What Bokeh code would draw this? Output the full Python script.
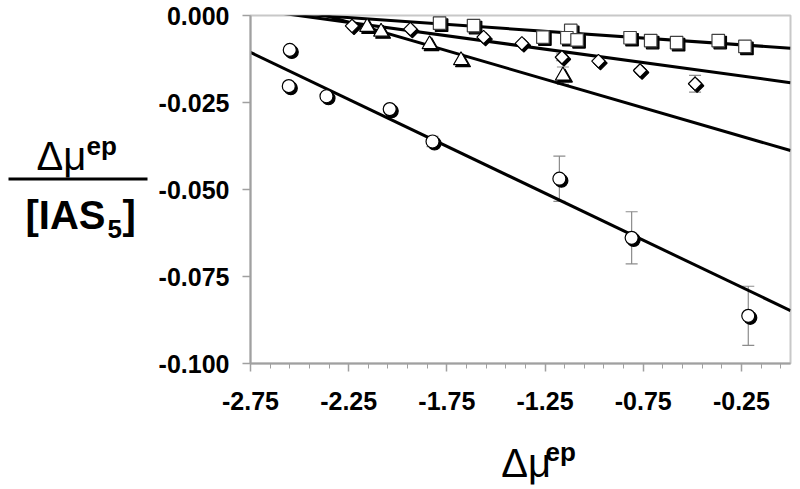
from bokeh.plotting import figure
from bokeh.layouts import row, column
from bokeh.models import (FixedTicker, PrintfTickFormatter, Whisker, ColumnDataSource,
                          TeeHead, Range1d)
from bokeh.core.properties import value
from bokeh.embed import file_html
from bokeh.resources import INLINE

# ---------------- data ----------------
circle_x = [-2.550, -2.555, -2.363, -2.041, -1.823, -1.177, -0.809, -0.215]
circle_y = [-0.0099, -0.0203, -0.0232, -0.0269, -0.0362, -0.0469, -0.0639, -0.0863]
circle_err = [0.0, 0.0, 0.0, 0.0008, 0.0015, 0.0065, 0.0075, 0.0085]

square_x = [-1.787, -1.614, -1.261, -1.119, -1.139, -1.087, -0.817, -0.712, -0.580, -0.368, -0.232]
square_y = [-0.0022, -0.0029, -0.0062, -0.0043, -0.0064, -0.0070, -0.0064, -0.0072, -0.0078, -0.0072, -0.0089]

diamond_x = [-2.233, -1.936, -1.563, -1.368, -1.164, -0.978, -0.766, -0.486]
diamond_y = [-0.0030, -0.0039, -0.0062, -0.0080, -0.0120, -0.0131, -0.0158, -0.0196]
diamond_err = [0.0, 0.0, 0.0, 0.0, 0.0010, 0.0, 0.0005, 0.0024]

triangle_x = [-2.156, -2.085, -1.838, -1.678, -1.159]
triangle_y = [-0.0033, -0.0047, -0.0083, -0.0129, -0.0173]
triangle_err = [0.0, 0.0, 0.0, 0.0, 0.0025]

# linear fits: y = intercept + slope * x   (circle, square, diamond, triangle)
fit_intercept = [-0.0848, -0.0094, -0.0193, -0.0388]
fit_slope = [-0.02698, -0.00391, -0.0077, -0.01639]

x_ticks = [-2.75, -2.25, -1.75, -1.25, -0.75, -0.25]
y_ticks = [-0.100, -0.075, -0.050, -0.025, 0.000]
x_start, x_end = -2.75, 0.0
y_start, y_end = -0.100, 0.000

x_title = ["Δμ", "ep"]
y_title_top = ["Δμ", "ep"]
y_title_bottom = ["[IAS", "5", "]"]

FONT = "Liberation Sans"

# ---------------- layout sizes (page pixels) ----------------
TOTAL_W, TOTAL_H = 798, 487
LEFT_W = 150                 # strip holding the y title
MAIN_H = 436                 # main chart height
FRAME_L, FRAME_R, FRAME_T, FRAME_B = 250, 790, 15, 363
MAIN_W = TOTAL_W - LEFT_W
BOT_H = TOTAL_H - MAIN_H

# ---------------- main chart ----------------
p = figure(width=MAIN_W, height=MAIN_H, output_backend="svg", toolbar_location=None,
           x_range=Range1d(x_start, x_end), y_range=Range1d(y_start, y_end),
           min_border_left=FRAME_L - LEFT_W, min_border_right=LEFT_W + MAIN_W - FRAME_R,
           min_border_top=FRAME_T, min_border_bottom=MAIN_H - FRAME_B,
           background_fill_color="white", border_fill_color="white")
p.xgrid.visible = False
p.ygrid.visible = False
p.outline_line_color = "#c8c8c8"
p.outline_line_width = 2

AX = "#a0a0a0"
for ax in (p.xaxis[0], p.yaxis[0]):
    ax.axis_line_color = AX
    ax.axis_line_width = 2
    ax.major_tick_line_color = AX
    ax.major_tick_line_width = 1.5
    ax.major_tick_out = 8
    ax.major_tick_in = 0
    ax.major_label_text_font = FONT
    ax.major_label_text_font_size = "25px"
    ax.major_label_text_font_style = "bold"
    ax.major_label_text_color = "black"

p.xaxis[0].ticker = FixedTicker(ticks=x_ticks,
                                minor_ticks=[x_start + 0.1 * k for k in range(28)])
p.xaxis[0].formatter = PrintfTickFormatter(format="%.2f")
p.xaxis[0].minor_tick_line_color = AX
p.xaxis[0].minor_tick_line_width = 1
p.xaxis[0].minor_tick_out = 5
p.xaxis[0].minor_tick_in = 0
p.xaxis[0].major_label_standoff = 20

p.yaxis[0].ticker = FixedTicker(ticks=y_ticks, minor_ticks=[])
p.yaxis[0].formatter = PrintfTickFormatter(format="%.3f")
p.yaxis[0].minor_tick_line_color = None
p.yaxis[0].major_label_standoff = 13

FW = FRAME_R - FRAME_L
FH = FRAME_B - FRAME_T
# shadow offset (2 px right, 2 px down) in data units
dx = 2.0 * (x_end - x_start) / FW
dy = -2.0 * (y_end - y_start) / FH

# fitted lines
for b, m in zip(fit_intercept, fit_slope):
    xs = [x_start, x_end]
    p.line(xs, [b + m * x for x in xs], line_color="black", line_width=3)

# error bars
def add_err(xv, yv, ev):
    xs = [a for a, e in zip(xv, ev) if e > 0]
    ys = [a for a, e in zip(yv, ev) if e > 0]
    es = [e for e in ev if e > 0]
    src = ColumnDataSource(dict(x=xs, up=[y + e for y, e in zip(ys, es)],
                                lo=[y - e for y, e in zip(ys, es)]))
    w = Whisker(source=src, base="x", upper="up", lower="lo", line_color="#8c8c8c", line_width=1.2,
                upper_head=TeeHead(size=12, line_color="#8c8c8c", line_width=1.2),
                lower_head=TeeHead(size=12, line_color="#8c8c8c", line_width=1.2))
    p.add_layout(w)

add_err(circle_x, circle_y, circle_err)
add_err(diamond_x, diamond_y, diamond_err)
add_err(triangle_x, triangle_y, triangle_err)

# markers with drop shadows
def add_series(xv, yv, marker, size, angle=0.0, lc="black"):
    p.scatter([x + dx for x in xv], [y + dy for y in yv], marker=marker, size=size, angle=angle,
              fill_color="black", line_color="black", line_width=1.2)
    p.scatter(xv, yv, marker=marker, size=size, angle=angle,
              fill_color="white", line_color=lc, line_width=1.2)

add_series(square_x, square_y, "square", 12.5, lc="#404040")
add_series(diamond_x, diamond_y, "square", 9.5, angle=0.785398)
add_series(triangle_x, triangle_y, "triangle", 15)
add_series(circle_x, circle_y, "circle", 13)

# ---------------- helper strips for the axis titles (page-pixel coordinates) ----------------
def strip(w, h, x0, y0):
    f = figure(width=w, height=h, output_backend="svg", toolbar_location=None,
               x_range=Range1d(x0, x0 + w), y_range=Range1d(y0 + h, y0),
               x_axis_type=None, y_axis_type=None,
               min_border_left=0, min_border_right=0, min_border_top=0, min_border_bottom=0,
               background_fill_color="white", border_fill_color="white")
    f.outline_line_color = None
    f.xgrid.visible = False
    f.ygrid.visible = False
    return f

def txt(f, s, x, y, size, bold):
    # y is the wanted baseline; bokeh places the glyph box a little lower, compensate
    f.text(x=[x], y=[y - 0.24 * size], text=[s], text_font=value(FONT),
           text_font_size=value(f"{size}px"),
           text_font_style="bold" if bold else "normal", text_color="black",
           text_align="left", text_baseline="alphabetic")

# y title (fraction)
lf = strip(LEFT_W, TOTAL_H, 0, 0)
txt(lf, y_title_top[0], 36, 165, 40, False)
txt(lf, y_title_top[1], 86, 152, 26, True)
lf.segment(x0=[8], y0=[178.5], x1=[147], y1=[178.5], line_color="black", line_width=3)
txt(lf, y_title_bottom[0], 25, 224, 40, True)
txt(lf, y_title_bottom[1], 107, 235, 26, True)
txt(lf, y_title_bottom[2], 122, 224, 40, True)

# x title
bf = strip(MAIN_W, BOT_H, LEFT_W, MAIN_H)
txt(bf, x_title[0], 451, 472, 40, False)
txt(bf, x_title[1], 504, 458, 26, True)

layout = row(lf, column(p, bf, spacing=0), spacing=0)
open("out.html", "w").write(file_html(layout, INLINE))
